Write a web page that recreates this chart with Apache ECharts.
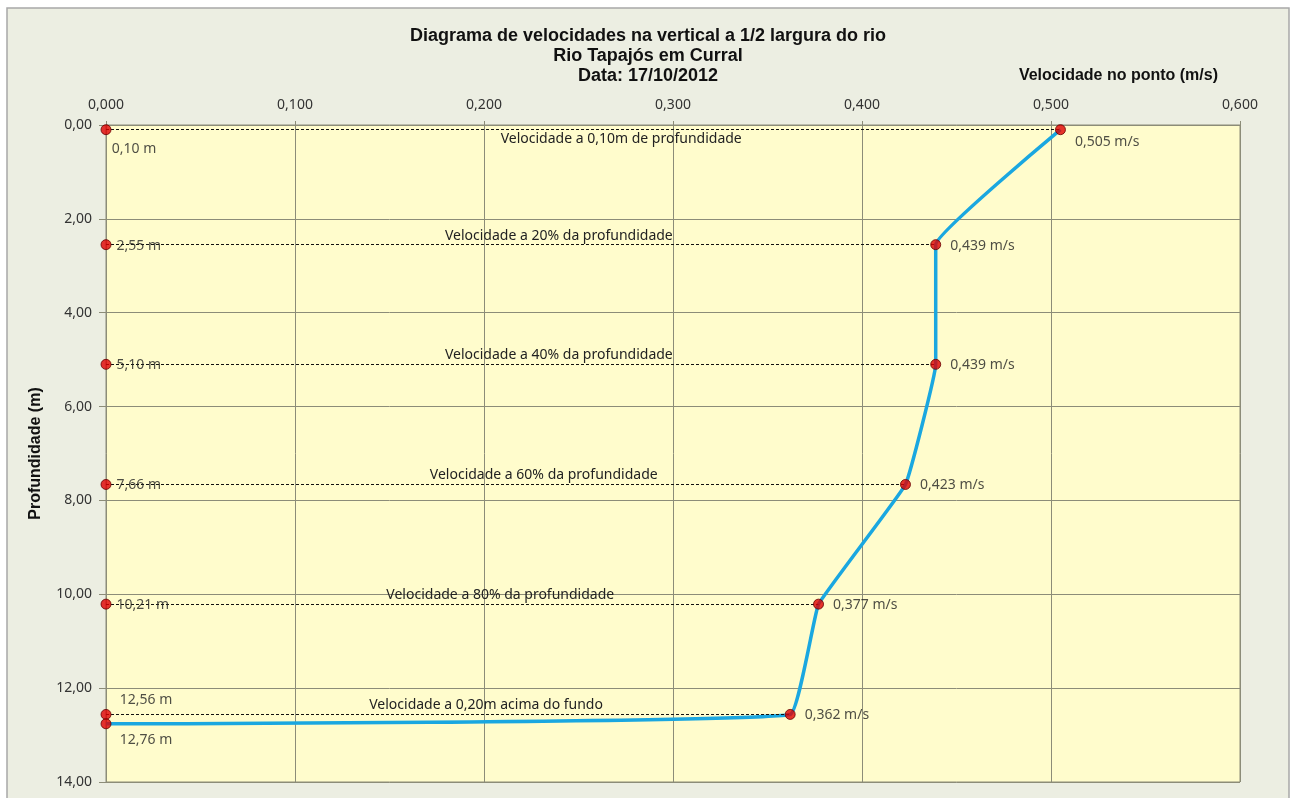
<html>
  <head>
    <meta charset="utf-8" />
    <script src="https://cdn.jsdelivr.net/npm/echarts@6/dist/echarts.min.js"></script>
  </head>
  <body>
    <style>
      html,
      body,
      #main {
        width: 100%;
        height: 100%;
        margin: 0;
        background: #fff;
      }
    </style>
    <div id="main"></div>
    <script>
      // profundidades (m) e velocidades (m/s) medidas na vertical
      const depths = [0.1, 2.55, 5.1, 7.66, 10.21, 12.56, 12.76];
      const speeds = [0.505, 0.439, 0.439, 0.423, 0.377, 0.362, 0];
      const pointNames = [
        "Velocidade a 0,10m de profundidade",
        "Velocidade a 20% da profundidade",
        "Velocidade a 40% da profundidade",
        "Velocidade a 60% da profundidade",
        "Velocidade a 80% da profundidade",
        "Velocidade a 0,20m acima do fundo",
      ];
      const xTicks = { min: 0, max: 0.6, interval: 0.1 };
      const yTicks = { min: 0, max: 14, interval: 2 };

      const fmt = (v, d) => v.toFixed(d).replace(".", ",");
      const font = "Noto Sans";

      var chart = echarts.init(document.getElementById("main"));

      // dashed guides from the depth axis to each measured point
      const guides = pointNames.map((name, i) => [
        {
          coord: [0, depths[i]],
          name: name,
          label: {
            position: i === 0 ? "insideMiddleBottom" : "insideMiddleTop",
          },
        },
        { coord: [speeds[i], depths[i]] },
      ]);

      const last = depths.length - 1;
      const depthPoints = depths.map((d, i) => {
        let label = { position: "right", offset: [0, 1] };
        if (i === 0) label = { position: "bottom", offset: [28, 2] };
        if (i === last - 1) label = { position: "top", offset: [40, 3] };
        if (i === last) label = { position: "bottom", offset: [40, -1] };
        return { value: [0, d], label: label };
      });

      const speedPoints = pointNames.map((n, i) => ({
        value: [speeds[i], depths[i]],
        label: {
          position: "right",
          offset: i === 0 ? [4, 12] : [4, 1],
        },
      }));

      var option = {
        backgroundColor: "#fff",
        animation: false,
        graphic: [
          {
            type: "rect",
            z: -10,
            shape: { x: 7, y: 8, width: 1282, height: 800 },
            style: { fill: "#eceee2", stroke: "#a8a8a8", lineWidth: 1.5 },
          },
        ],
        title: {
          text: "Diagrama de velocidades na vertical a 1/2 largura do rio\nRio Tapajós em Curral\nData: 17/10/2012",
          left: "center",
          top: 21,
          textStyle: {
            fontFamily: "Liberation Sans",
            fontSize: 18,
            fontWeight: "bold",
            color: "#111",
            lineHeight: 20,
          },
        },
        grid: {
          left: 106,
          right: 56,
          top: 125,
          bottom: 16,
          show: true,
          backgroundColor: "#fffccc",
          borderColor: "#8c8c78",
          borderWidth: 1,
        },
        xAxis: {
          type: "value",
          position: "top",
          min: xTicks.min,
          max: xTicks.max,
          interval: xTicks.interval,
          name: "Velocidade no ponto (m/s)",
          nameLocation: "end",
          nameGap: 0,
          nameTextStyle: {
            fontFamily: "Liberation Sans",
            fontSize: 16,
            fontWeight: "bold",
            color: "#111",
            align: "right",
            verticalAlign: "bottom",
            padding: [0, 22, 41, 0],
          },
          axisLine: { show: false },
          axisTick: { show: true, length: 4, lineStyle: { color: "#8c8c78" } },
          axisLabel: {
            formatter: (v) => fmt(v, 3),
            fontFamily: font,
            fontSize: 14,
            color: "#333",
            margin: 13,
          },
          splitLine: { lineStyle: { color: "#8c8c78", width: 1 } },
        },
        yAxis: {
          type: "value",
          inverse: true,
          min: yTicks.min,
          max: yTicks.max,
          interval: yTicks.interval,
          name: "Profundidade (m)",
          nameLocation: "middle",
          nameGap: 62,
          nameTextStyle: {
            fontFamily: "Liberation Sans",
            fontSize: 16,
            fontWeight: "bold",
            color: "#111",
          },
          axisLine: { show: false },
          axisTick: { show: true, length: 7, lineStyle: { color: "#8c8c78" } },
          axisLabel: {
            formatter: (v) => fmt(v, 2),
            fontFamily: font,
            fontSize: 14,
            color: "#333",
            margin: 14,
          },
          splitLine: { lineStyle: { color: "#8c8c78", width: 1 } },
        },
        series: [
          {
            name: "perfil",
            type: "line",
            data: depths.map((d, i) => [speeds[i], d]),
            smooth: 0.08,
            showSymbol: false,
            lineStyle: { color: "#1aa7e0", width: 3.5 },
            z: 3,
          },
          {
            name: "guias",
            type: "scatter",
            data: [],
            markLine: {
              silent: true,
              symbol: ["none", "none"],
              lineStyle: { type: [3, 2], color: "#111", width: 1 },
              label: {
                formatter: "{b}",
                fontFamily: font,
                fontSize: 14,
                color: "#222",
                distance: 2,
                offset: [38, 0],
              },
              data: guides,
            },
            z: 2,
          },
          {
            name: "profundidades",
            type: "scatter",
            data: depthPoints,
            clip: false,
            symbolSize: 10,
            itemStyle: { color: "#e00000", borderColor: "#600", borderWidth: 1 },
            label: {
              show: true,
              formatter: (p) => fmt(p.value[1], 2) + " m",
              fontFamily: font,
              fontSize: 14,
              color: "#222",
            },
            z: 5,
          },
          {
            name: "velocidades",
            type: "scatter",
            data: speedPoints,
            clip: false,
            symbolSize: 10,
            itemStyle: { color: "#e00000", borderColor: "#600", borderWidth: 1 },
            label: {
              show: true,
              formatter: (p) => fmt(p.value[0], 3) + " m/s",
              fontFamily: font,
              fontSize: 14,
              color: "#222",
            },
            z: 5,
          },
        ],
      };

      chart.setOption(option);
      window.onresize = chart.resize;
    </script>
  </body>
</html>
